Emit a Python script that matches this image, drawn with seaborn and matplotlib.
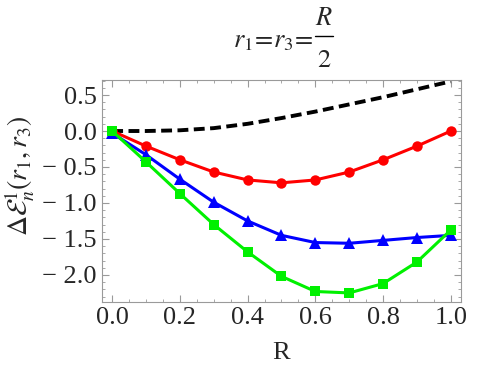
import numpy as np
import pandas as pd
import matplotlib
matplotlib.use("Agg")
import matplotlib.pyplot as plt
import seaborn as sns
from matplotlib.ticker import MultipleLocator
from matplotlib.lines import Line2D

# values
R = [0.0, 0.1, 0.2, 0.3, 0.4, 0.5, 0.6, 0.7, 0.8, 0.9, 1.0]
black = [0.0, 0.0, 0.01, 0.04, 0.10, 0.18, 0.27, 0.37, 0.47, 0.58, 0.69]
red = [0.0, -0.21, -0.40, -0.57, -0.68, -0.72, -0.68, -0.57, -0.40, -0.21, 0.0]
blue = [-0.03, -0.33, -0.67, -0.99, -1.25, -1.45, -1.55, -1.56, -1.52, -1.48, -1.45]
green = [0.0, -0.43, -0.87, -1.30, -1.68, -2.02, -2.23, -2.25, -2.12, -1.82, -1.375]
xticks = [0.0, 0.2, 0.4, 0.6, 0.8, 1.0]
yticks = [0.5, 0.0, -0.5, -1.0, -1.5, -2.0]

sns.set_style("ticks")
plt.rcParams['font.family'] = ['Liberation Serif', 'DejaVu Serif']
plt.rcParams['mathtext.fontset'] = 'stix'

fig = plt.figure(figsize=(5, 3.7), dpi=100)
ax = fig.add_axes([0.204, 0.184, 0.718, 0.600])

df = pd.DataFrame({'R': R, 'black': black, 'red': red, 'blue': blue, 'green': green})

sns.lineplot(data=df, x='R', y='black', ax=ax, color='black', lw=2.8,
             linestyle=(0, (2.8, 1.4)), zorder=2)
sns.lineplot(data=df, x='R', y='red', ax=ax, color='#ff0000', lw=2.2,
             marker='o', markersize=7.5, markeredgewidth=0, zorder=3)
sns.lineplot(data=df, x='R', y='blue', ax=ax, color='#0000ff', lw=2.2,
             marker='^', markersize=8, markeredgewidth=0, zorder=4)
sns.lineplot(data=df, x='R', y='green', ax=ax, color='#00f000', lw=2.2,
             marker='s', markersize=6.5, markeredgewidth=0, zorder=5)

ax.set_xlim(-0.03, 1.03)
ax.set_ylim(-2.375, 0.71)
ax.xaxis.set_minor_locator(MultipleLocator(0.05))
ax.yaxis.set_minor_locator(MultipleLocator(0.1))
ax.set_xticks(xticks)
ax.set_xticklabels([f'{v:.1f}' for v in xticks])
ax.set_yticks(yticks)
# long minus with a gap, as in the reference
ax.set_yticklabels([f'{v:.1f}' if v >= 0 else '\u2212 ' + f'{-v:.1f}' for v in yticks])

for s in ax.spines.values():
    s.set_color('#9a9a9a')
    s.set_linewidth(0.8)
ax.tick_params(which='both', direction='in', top=True, right=True,
               color='#9a9a9a', labelsize=19, pad=4)
ax.tick_params(which='major', length=5, width=0.8)
ax.tick_params(which='minor', length=2.5, width=0.6)

ax.set_xlabel('R', fontsize=19, labelpad=9)
ax.set_ylabel(r'$\Delta\mathcal{E}_n^1(r_1,r_3)$', fontsize=20)
ax.yaxis.set_label_coords(-0.181, 0.568)

# title: r1=r3=R/2 laid out like a display fraction
fig.text(313 / 500, 1 - 47 / 370, r'$r_1\!=\!r_3\!=$', fontsize=19,
         ha='right', va='baseline')
fig.text(324 / 500, 1 - 25 / 370, r'$R$', fontsize=19, ha='center', va='baseline')
fig.text(324 / 500, 1 - 67 / 370, r'$2$', fontsize=19, ha='center', va='baseline')
fig.add_artist(Line2D([315 / 500, 333 / 500], [1 - 36 / 370, 1 - 36 / 370],
                      color='black', lw=1.0, transform=fig.transFigure))

fig.savefig('out.png', dpi=100)
